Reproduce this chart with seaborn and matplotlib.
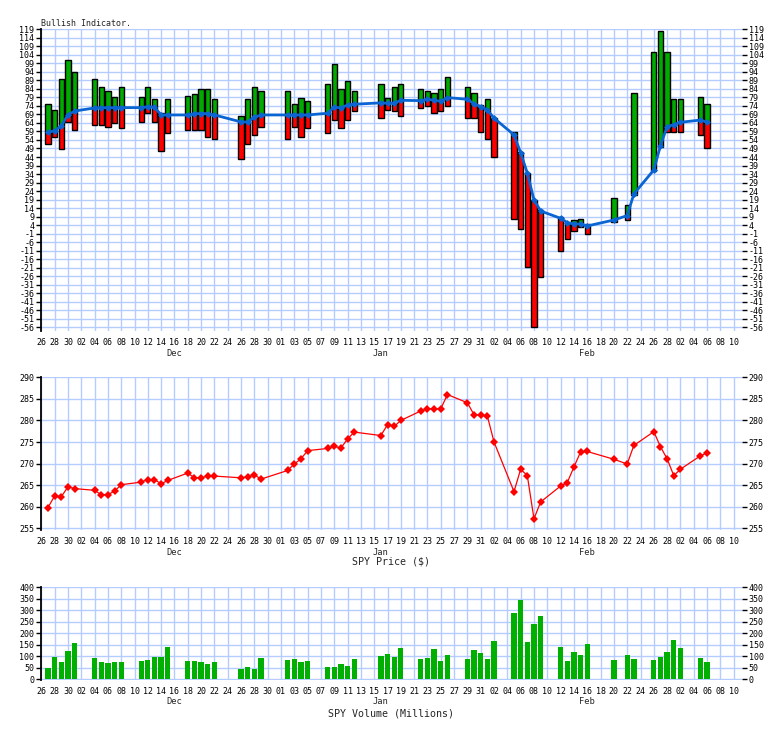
import numpy as np
import pandas as pd
import matplotlib
matplotlib.use("Agg")
import matplotlib.pyplot as plt
import seaborn as sns

dates = ["2017-11-27", "2017-11-28", "2017-11-29", "2017-11-30", "2017-12-01",
         "2017-12-04", "2017-12-05", "2017-12-06", "2017-12-07", "2017-12-08",
         "2017-12-11", "2017-12-12", "2017-12-13", "2017-12-14", "2017-12-15",
         "2017-12-18", "2017-12-19", "2017-12-20", "2017-12-21", "2017-12-22",
         "2017-12-26", "2017-12-27", "2017-12-28", "2017-12-29",
         "2018-01-02", "2018-01-03", "2018-01-04", "2018-01-05",
         "2018-01-08", "2018-01-09", "2018-01-10", "2018-01-11", "2018-01-12",
         "2018-01-16", "2018-01-17", "2018-01-18", "2018-01-19",
         "2018-01-22", "2018-01-23", "2018-01-24", "2018-01-25", "2018-01-26",
         "2018-01-29", "2018-01-30", "2018-01-31", "2018-02-01", "2018-02-02",
         "2018-02-05", "2018-02-06", "2018-02-07", "2018-02-08", "2018-02-09",
         "2018-02-12", "2018-02-13", "2018-02-14", "2018-02-15", "2018-02-16",
         "2018-02-20", "2018-02-22", "2018-02-23",
         "2018-02-26", "2018-02-27", "2018-02-28", "2018-03-01", "2018-03-02",
         "2018-03-05", "2018-03-06"]

bull_high = [75, 71.4, 89.6, 100.8, 94, 89.6, 85, 82.6, 79.5, 85,
             79.5, 85, 78, 69.7, 78, 79.7, 81.2, 83.8, 83.8, 78,
             67.9, 78, 85, 82.6, 82.6, 75, 78.5, 76.7,
             86.7, 98.5, 83.8, 88.5, 82.6, 86.7, 78.5, 85, 86.7,
             83.8, 82.6, 81.4, 83.8, 90.8, 85, 81.4, 74.4, 78, 66.8,
             58.5, 47.2, 34.9, 18.8, 12.9, 8.6, 5.5, 7, 7.5, 4.7,
             19.8, 15.7, 81.4, 105.5, 118, 105.5, 78.3, 78.3, 79.5, 75]

bull_low = [51.5, 55.6, 48.5, 64.4, 59.7, 62.6, 62.6, 61.5, 63.8, 60.9,
            64.4, 69.7, 64.4, 47.4, 58, 59.7, 59.7, 59.7, 55.6, 54.4,
            42.7, 51.5, 56.8, 61.5, 54.4, 61.5, 55.6, 60.9,
            58, 65.6, 60.9, 65.6, 70.9, 66.8, 71.4, 70.9, 67.9,
            72.6, 73.8, 69.7, 70.9, 73.8, 66.8, 66.8, 58.5, 54.4, 43.9,
            7.5, 1.6, -20.3, -55.6, -26.6, -11.3, -4.3, 0.4, 2.8, -1.4,
            5.7, 6.9, 21.5, 35.8, 49.9, 58.5, 58.5, 58.5, 56.8, 49.5]

bull_avg = [58.5, 59.5, 62.3, 68.7, 71, 72.8, 73, 73, 73, 73,
            73, 73.6, 73.2, 68.7, 68.7, 68.7, 69.5, 69.5, 69.5, 68.7,
            64.6, 64.6, 67.3, 68.7, 68.7, 68.7, 68.7, 68.7,
            69.7, 73.4, 72.8, 74.6, 75, 75.8, 75.6, 75.6, 77.3,
            77.1, 77.9, 77.3, 76.7, 78.9, 77.9, 75.2, 73.6, 71.6, 66.8,
            57, 46.5, 34.5, 18.8, 12.3, 8, 5.5, 4.7, 4.7, 3.5,
            7, 9.6, 22.3, 36.4, 50.7, 61.9, 63, 64.4, 65.7, 64.4]

spy_price = [259.8, 262.5, 262.3, 264.6, 264.2, 263.8, 262.8, 262.8, 263.6, 265.1,
             265.7, 266.3, 266.3, 265.3, 266.1, 267.8, 266.7, 266.7, 267.1, 267.1,
             266.7, 266.9, 267.4, 266.4, 268.4, 269.9, 271.1, 273,
             273.5, 274, 273.6, 275.7, 277.3, 276.5, 279, 278.6, 280,
             282.2, 282.7, 282.7, 282.7, 286, 284.1, 281.3, 281.3, 281, 275,
             263.5, 268.7, 267.2, 257.2, 261.1, 264.8, 265.6, 269.2, 272.7, 272.8,
             271, 269.9, 274.2, 277.4, 273.9, 271.1, 267.2, 268.7, 271.8, 272.5]

spy_volume = [49, 97, 75, 123, 158, 93, 75, 71, 75, 75,
              80, 84, 97, 97, 141, 80, 80, 75, 67, 75,
              45, 54, 45, 93, 84, 88, 75, 80,
              54, 54, 67, 58, 88, 101, 110, 97, 136,
              88, 93, 132, 80, 106, 88, 128, 114, 88, 167,
              288, 345, 162, 241, 275, 141, 80, 119, 106, 154,
              84, 106, 88, 84, 97, 119, 171, 136, 93, 75]

month_names = ["Dec", "Jan", "Feb"]
month_dates = ["2017-12-16", "2018-01-16", "2018-02-16"]

axis_start = pd.Timestamp("2017-11-26")

sns.set_style("white")
plt.rcParams['font.family'] = ['DejaVu Sans Mono', 'DejaVu Sans']

df = pd.DataFrame({
    "x": [(pd.Timestamp(d) - axis_start).days for d in dates],
    "high": bull_high, "low": bull_low, "avg": bull_avg,
    "price": spy_price, "volume": spy_volume,
})

fig = plt.figure(figsize=(7.84, 7.29), dpi=100)
W, H = 784.0, 729.0
left_px, right_px = 41.3, 741.7


def make_ax(top_px, bottom_px):
    return fig.add_axes([left_px / W, 1 - bottom_px / H,
                         (right_px - left_px) / W, (bottom_px - top_px) / H])


tick_days = np.arange(0, 105, 2)
tick_labels = [(axis_start + pd.Timedelta(days=int(d))).strftime("%d") for d in tick_days]
month_x = [(pd.Timestamp(d) - axis_start).days for d in month_dates]
GRID = "#b4ccff"


def style(ax, ylim, yticks, month_off=-16.5):
    ax.set_xlim(0, 105.2)
    ax.set_ylim(*ylim)
    ax.set_yticks(yticks)
    ax.set_yticklabels([str(v) for v in yticks])
    ax.set_xticks(tick_days)
    ax.set_xticklabels(tick_labels)
    ax.grid(True, color=GRID, lw=1.0)
    ax.set_axisbelow(True)
    for s in ["top", "right", "bottom"]:
        ax.spines[s].set_visible(False)
    ax.spines["left"].set_color("black")
    ax.spines["left"].set_linewidth(1.3)
    ax.tick_params(axis="both", direction="out", length=3.5, width=1.0,
                   colors="black", labelsize=6, pad=1.5)
    ax.tick_params(axis="y", left=True, right=True, labelleft=True, labelright=True)
    ax.set_xlabel("")
    ax.set_ylabel("")
    for name, mx in zip(month_names, month_x):
        ax.annotate(name, xy=(mx, 0), xycoords=("data", "axes fraction"),
                    xytext=(0, month_off), textcoords="offset points",
                    ha="center", va="center", fontsize=6.3)


# ---- Bullish indicator panel ----
ax1 = make_ax(29.3, 330.7)
bw = 0.8
hi = df["high"].values
lo = df["low"].values
av = df["avg"].values
xs = df["x"].values
g_bot = np.maximum(lo, av)
g_h = np.where(hi > av, hi - g_bot, 0)
r_top = np.minimum(hi, av)
r_h = np.where(lo < av, r_top - lo, 0)
ax1.bar(xs, g_h, bottom=g_bot, width=bw, color="#00aa00", lw=0, zorder=2)
ax1.bar(xs, r_h, bottom=lo, width=bw, color="#ff0000", lw=0, zorder=2)
ax1.bar(xs, hi - lo, bottom=lo, width=bw, fill=False, edgecolor="black", lw=1.0, zorder=3)
sns.lineplot(data=df, x="x", y="avg", ax=ax1, color="#0a64d2", lw=2.0,
             marker="D", markersize=3.5, markeredgewidth=0, zorder=4)
style(ax1, (-58, 119), list(range(119, -57, -5)))
fig.text(41 / W, 1 - 24 / H, "Bullish Indicator.", fontsize=6, ha="left", va="center")

# ---- SPY price panel ----
ax2 = make_ax(377.3, 530.0)
sns.lineplot(data=df, x="x", y="price", ax=ax2, color="#ff0000", lw=0.9,
             marker="D", markersize=4, markeredgewidth=0, zorder=3)
style(ax2, (254.6, 290), list(range(255, 291, 5)))
fig.text(391.5 / W, 1 - 562 / H, "SPY Price ($)", fontsize=7.2, ha="center", va="center")

# ---- SPY volume panel ----
ax3 = make_ax(587.3, 680.2)
ax3.bar(df["x"], df["volume"], width=bw, color="#00b000", lw=0, zorder=2)
style(ax3, (-4, 400), list(range(0, 401, 50)), month_off=-15.5)
fig.text(390.5 / W, 1 - 714 / H, "SPY Volume (Millions)", fontsize=7.2, ha="center", va="center")

fig.savefig("out.png", dpi=100, facecolor="white")
